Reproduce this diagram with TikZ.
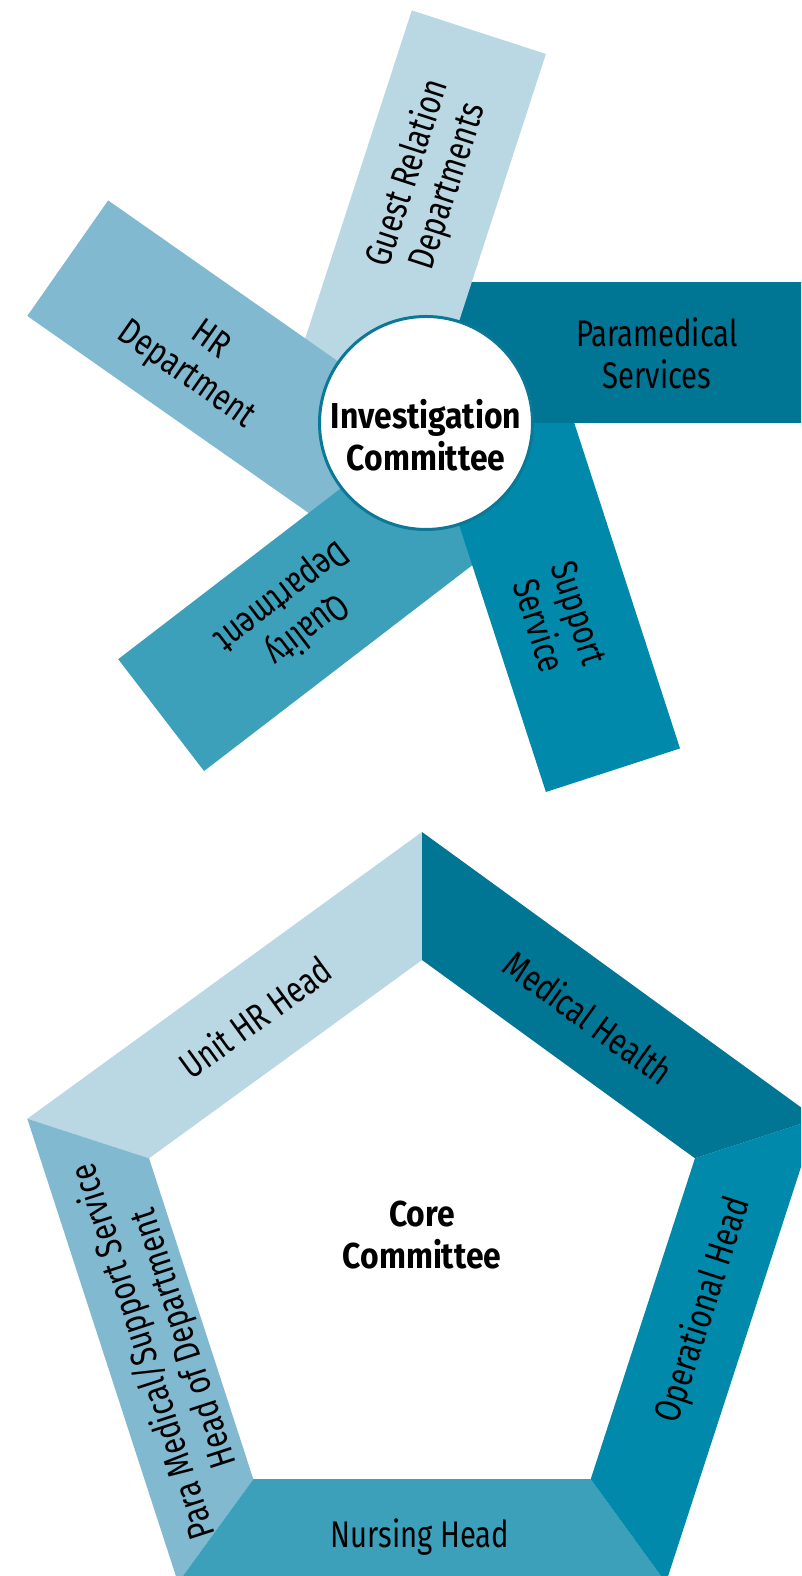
\documentclass[tikz,border=0pt]{standalone}
\usepackage{fontspec}
\usetikzlibrary{calc}
\newfontfamily\regf{Fira Sans}[FakeStretch=0.79]
\newfontfamily\bldf{Fira Sans}[FakeStretch=0.885]
\definecolor{cA}{HTML}{B9D8E3}
\definecolor{cB}{HTML}{80B9D0}
\definecolor{cC}{HTML}{3DA0BB}
\definecolor{cD}{HTML}{0089AA}
\definecolor{cE}{HTML}{007594}
\definecolor{ring}{HTML}{0A7896}
\begin{document}
\begin{tikzpicture}[x=1pt,y=1pt,
  lab/.style={font=\regf\fontsize{37}{42}\selectfont, align=center, inner sep=0pt, text=black},
  bld/.style={font=\bldf\bfseries\fontsize{36}{42}\selectfont, align=center, inner sep=0pt, text=black}]
\useasboundingbox (0,0) rectangle (801,1576);
\clip (0,0) rectangle (801,1576);
% ---------- upper figure: pinwheel ----------
\coordinate (C) at (426,1153);
\foreach \a/\c/\l in {0/cE/420, 72/cA/388, 145/cB/388, 217.5/cC/388, 288/cD/388}
  \fill[\c] (C) -- ++(\a:\l) -- ++(\a+90:141) -- ++(\a+180:\l) -- cycle;
\begin{scope}
  \clip (C) -- ++(288:388) -- ++(18:141) -- ++(108:388) -- cycle;
  \fill[cE] (C) -- ++(0:420) -- ++(90:141) -- ++(180:420) -- cycle;
\end{scope}
\node[circle, draw=ring, line width=3pt, fill=white, minimum size=213pt, inner sep=0pt] (ic) at (C) {};
\node[bld] (ict) at (426,1140.5) {Investigation\\Committee};
\node[lab] (pm) at ($(C)+(0:231)+(90:70)$) {Paramedical\\Services};
\node[lab, rotate=72] (gr) at ($(C)+(72:232)+(162:73)$) {Guest Relation\\Departments};
\node[lab, rotate=-35] (hr) at ($(C)+(145:224)+(235:78)$) {HR\\Department};
\node[lab, rotate=217.5] (qd) at ($(C)+(217.5:220)+(307.5:70)$) {Quality\\Department};
\node[lab, rotate=288] (ss) at ($(C)+(288:228)+(18:66)$) {Support\\Service};
% ---------- lower figure: pentagon ----------
\coordinate (P) at (422,329);
\foreach \a/\b/\c in {90/162/cA, 162/234/cB, 234/306/cC, 306/378/cD, 18/90/cE}
  \fill[\c] ($(P)+(\a:415)$) -- ($(P)+(\b:415)$) -- ($(P)+(\b:287)$) -- ($(P)+(\a:287)$) -- cycle;
\node[lab, rotate=36] (uh) at ($(P)+(126:284)$) {Unit HR Head};
\node[lab, rotate=-36] (mh) at ($(P)+(54:284)$) {Medical Health};
\node[lab, rotate=72] (oh) at (704,266) {Operational Head};
\node[lab, anchor=base] (nh) at (420,28) {Nursing Head};
\node[lab, rotate=108] (pmh) at (164,231) {Para Medical/Support Service\\Head of Department};
\node[bld] (cc) at (422,340.5) {Core\\Committee};
\end{tikzpicture}
\end{document}
